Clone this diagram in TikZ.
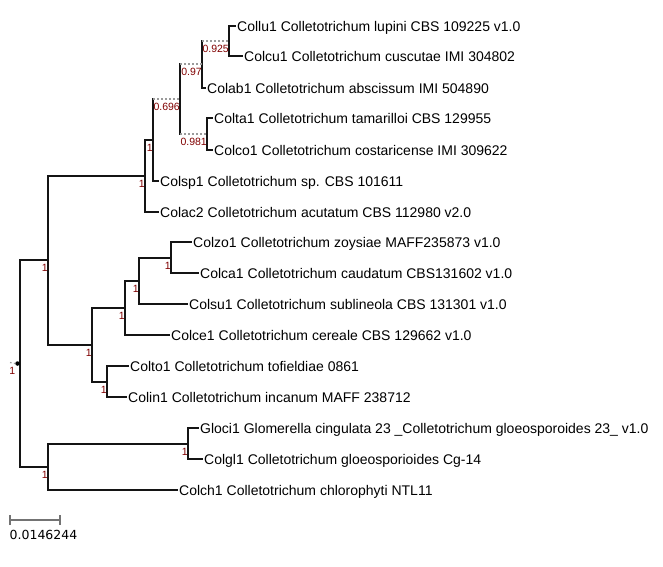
\documentclass[tikz,border=0pt]{standalone}
\usepackage{fontspec}
\setmainfont{Liberation Sans}
\newfontfamily\dejavu{DejaVu Sans}
\definecolor{suppred}{HTML}{800000}
\definecolor{dotgray}{HTML}{9A9A9A}
\newcommand\leaffont{\fontsize{14}{16}\selectfont}
\newcommand\suppfont{\fontsize{10.5}{12}\selectfont}
\tikzset{
  br/.style={line width=2.6pt, draw=black!92, line cap=rect},
  dotbr/.style={line width=1.6pt, draw=dotgray, dash pattern=on 1.6pt off 2.4pt},
  leaf/.style={anchor=base west, inner sep=0pt, xshift=2pt, yshift=-5.5pt, font=\leaffont},
  supp/.style={anchor=base east, inner sep=0pt, yshift=-11pt, font=\suppfont, text=suppred},
}
\begin{document}
\begin{tikzpicture}[x=1pt,y=-1pt]
\useasboundingbox (0,0) rectangle (663,566);
% internal nodes
\coordinate (r) at (20,364);
\coordinate (C) at (48,260);
\coordinate (A) at (145,176);
\coordinate (B) at (153,140);
\coordinate (N696) at (180,99);
\coordinate (N97) at (202,64);
\coordinate (N925) at (229,41);
\coordinate (N981) at (207,134);
\coordinate (D) at (92,345);
\coordinate (F) at (125,308);
\coordinate (G) at (139,281);
\coordinate (H) at (171,258);
\coordinate (E) at (107,382);
\coordinate (I) at (48,467);
\coordinate (J) at (188,444);
% leaf tips
\coordinate (tcollu) at (235,26);
\coordinate (tcolcu) at (242,56);
\coordinate (tcolab) at (205,88);
\coordinate (tcolta) at (212,118);
\coordinate (tcolco) at (212,150);
\coordinate (tcolsp) at (158,181);
\coordinate (tcolac) at (158,212);
\coordinate (tcolzo) at (191,242);
\coordinate (tcolca) at (198,273);
\coordinate (tcolsu) at (187,304);
\coordinate (tcolce) at (169,335);
\coordinate (tcolto) at (128,366);
\coordinate (tcolin) at (126,397);
\coordinate (tgloci) at (198,428);
\coordinate (tcolgl) at (202,459);
\coordinate (tcolch) at (177,490);
% leaf labels
\node[leaf] (lcollu) at (tcollu) {Collu1 Colletotrichum lupini CBS 109225 v1.0};
\node[leaf] (lcolcu) at (tcolcu) {Colcu1 Colletotrichum cuscutae IMI 304802};
\node[leaf] (lcolab) at (tcolab) {Colab1 Colletotrichum abscissum IMI 504890};
\node[leaf] (lcolta) at (tcolta) {Colta1 Colletotrichum tamarilloi CBS 129955};
\node[leaf] (lcolco) at (tcolco) {Colco1 Colletotrichum costaricense IMI 309622};
\node[leaf] (lcolsp) at (tcolsp) {Colsp1 Colletotrichum sp. CBS 101611};
\node[leaf] (lcolac) at (tcolac) {Colac2 Colletotrichum acutatum CBS 112980 v2.0};
\node[leaf] (lcolzo) at (tcolzo) {Colzo1 Colletotrichum zoysiae MAFF235873 v1.0};
\node[leaf] (lcolca) at (tcolca) {Colca1 Colletotrichum caudatum CBS131602 v1.0};
\node[leaf] (lcolsu) at (tcolsu) {Colsu1 Colletotrichum sublineola CBS 131301 v1.0};
\node[leaf] (lcolce) at (tcolce) {Colce1 Colletotrichum cereale CBS 129662 v1.0};
\node[leaf] (lcolto) at (tcolto) {Colto1 Colletotrichum tofieldiae 0861};
\node[leaf] (lcolin) at (tcolin) {Colin1 Colletotrichum incanum MAFF 238712};
\node[leaf] (lgloci) at (tgloci) {Gloci1 Glomerella cingulata 23 \_Colletotrichum gloeosporoides 23\_ v1.0};
\node[leaf] (lcolgl) at (tcolgl) {Colgl1 Colletotrichum gloeosporioides Cg-14};
\node[leaf] (lcolch) at (tcolch) {Colch1 Colletotrichum chlorophyti NTL11};
% verticals
\draw[br] (r |- C) -- (r |- I);
\draw[br] (C |- A) -- (C |- D);
\draw[br] (A |- B) -- (A |- tcolac);
\draw[br] (B |- N696) -- (B |- tcolsp);
\draw[br] (N696 |- N97) -- (N696 |- N981);
\draw[br] (N97 |- N925) -- (N97 |- tcolab);
\draw[br] (N925 |- tcollu) -- (N925 |- tcolcu);
\draw[br] (N981 |- tcolta) -- (N981 |- tcolco);
\draw[br] (D |- F) -- (D |- E);
\draw[br] (F |- G) -- (F |- tcolce);
\draw[br] (G |- H) -- (G |- tcolsu);
\draw[br] (H |- tcolzo) -- (H |- tcolca);
\draw[br] (E |- tcolto) -- (E |- tcolin);
\draw[br] (I |- J) -- (I |- tcolch);
\draw[br] (J |- tgloci) -- (J |- tcolgl);
% horizontals
\draw[br] (r |- C) -- (C);
\draw[br] (r |- I) -- (I);
\draw[br] (C |- A) -- (A);
\draw[br] (C |- D) -- (D);
\draw[br] (A |- B) -- (B);
\draw[br] (A |- tcolac) -- (tcolac);
\draw[dotbr] (B |- N696) -- (N696);
\draw[br] (B |- tcolsp) -- (tcolsp);
\draw[dotbr] (N696 |- N97) -- (N97);
\draw[dotbr] (N696 |- N981) -- (N981);
\draw[dotbr] (N97 |- N925) -- (N925);
\draw[br] (N97 |- tcolab) -- (tcolab);
\draw[br] (N925 |- tcollu) -- (tcollu);
\draw[br] (N925 |- tcolcu) -- (tcolcu);
\draw[br] (N981 |- tcolta) -- (tcolta);
\draw[br] (N981 |- tcolco) -- (tcolco);
\draw[br] (D |- F) -- (F);
\draw[br] (D |- E) -- (E);
\draw[br] (F |- G) -- (G);
\draw[br] (F |- tcolce) -- (tcolce);
\draw[br] (G |- H) -- (H);
\draw[br] (G |- tcolsu) -- (tcolsu);
\draw[br] (H |- tcolzo) -- (tcolzo);
\draw[br] (H |- tcolca) -- (tcolca);
\draw[br] (E |- tcolto) -- (tcolto);
\draw[br] (E |- tcolin) -- (tcolin);
\draw[br] (I |- J) -- (J);
\draw[br] (I |- tcolch) -- (tcolch);
\draw[br] (J |- tgloci) -- (tgloci);
\draw[br] (J |- tcolgl) -- (tcolgl);
% root marker
\node[circle, fill=black, inner sep=0pt, minimum size=4.5pt] (rootdot) at (17.5,363.5) {};
\draw[dotbr, line width=1.2pt] (10,362.5) -- (rootdot.west);
% support values
\node[supp] (srt) at ([xshift=-2pt]rootdot.center) {1};
\node[supp] (sC) at (C) {1};
\node[supp] (sA) at (A) {1};
\node[supp] (sB) at (B) {1};
\node[supp] (s696) at (N696) {0.696};
\node[supp] (s97) at (N97) {0.97};
\node[supp] (s925) at (N925) {0.925};
\node[supp] (s981) at (N981) {0.981};
\node[supp] (sD) at (D) {1};
\node[supp] (sF) at (F) {1};
\node[supp] (sG) at (G) {1};
\node[supp] (sH) at (H) {1};
\node[supp] (sE) at (E) {1};
\node[supp] (sI) at (I) {1};
\node[supp] (sJ) at (J) {1};
% scale bar
\coordinate (sb1) at (10,520);
\coordinate (sb2) at (60,520);
\draw[line width=1.8pt, draw=black!55] (sb1) -- (sb2);
\draw[line width=1.6pt, draw=black!55] ([yshift=-5pt]sb1) -- ([yshift=5pt]sb1);
\draw[line width=1.6pt, draw=black!55] ([yshift=-5pt]sb2) -- ([yshift=5pt]sb2);
\node[anchor=base west, inner sep=0pt, font=\dejavu\fontsize{12.5}{14}\selectfont] (sblabel) at (9.5,539) {0.0146244};
\end{tikzpicture}
\end{document}
